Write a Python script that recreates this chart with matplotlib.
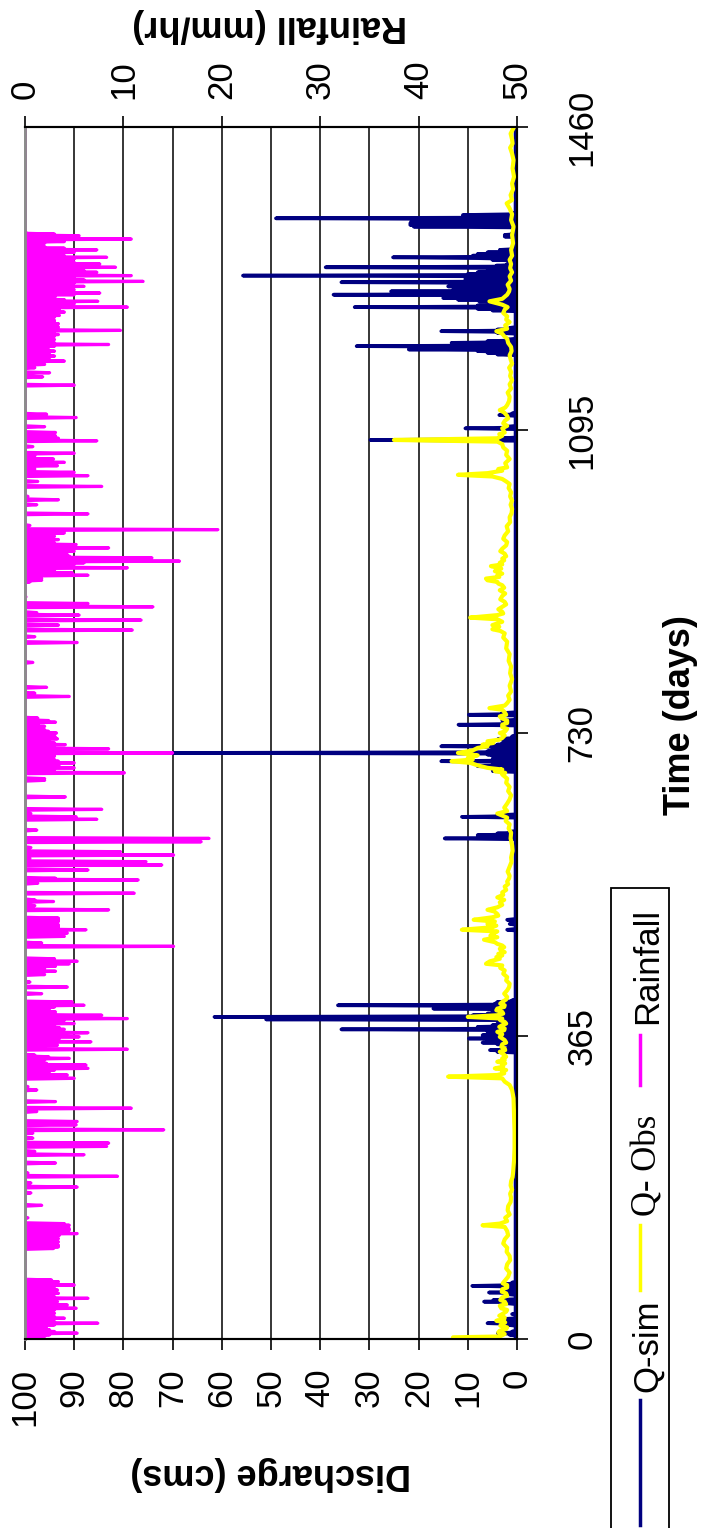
import numpy as np
import matplotlib.pyplot as plt
from matplotlib.patches import Rectangle
from matplotlib.lines import Line2D

plt.rcParams['font.family'] = ['Liberation Sans', 'DejaVu Sans']

# Rainfall (mm/hr): (day, value), zero on the other days
rain_y1 = [(1, 1.2), (3, 2.0), (5, 2.5), (7, 5.3), (9, 3.0), (11, 2.5), (13, 2.2), (15, 1.7), (17, 3.0),
           (19, 7.4), (21, 3.0), (23, 2.5), (25, 4.0), (27, 3.0), (29, 2.2), (31, 3.0), (33, 2.8), (35, 3.0),
           (37, 5.2), (39, 2.5), (41, 4.3), (43, 3.0), (45, 3.3), (47, 3.0), (49, 6.4), (51, 3.0), (53, 2.5),
           (55, 3.4), (57, 3.0), (59, 3.3), (61, 2.5), (63, 3.0), (65, 5.0), (67, 3.0), (69, 3.4), (71, 2.7),
           (109, 2.9), (111, 3.4), (113, 3.4), (115, 3.0), (117, 3.4), (119, 3.3), (121, 3.4), (123, 3.3),
           (125, 3.5), (127, 5.3), (129, 4.0), (131, 4.5), (133, 4.5), (135, 4.0), (137, 4.5), (139, 4.0),
           (146, 0.3), (161, 1.7), (176, 0.6), (183, 5.3), (188, 0.6), (196, 9.4), (200, 0.3), (212, 3.1),
           (222, 6.0), (226, 1.0), (232, 8.3), (236, 8.5), (242, 0.8), (248, 0.8), (252, 14.1), (258, 5.2),
           (262, 5.3), (274, 1.2), (278, 10.8), (286, 3.1), (300, 1.2), (304, 0.3),
           (314, 5.0), (316, 2.5), (318, 4.3), (320, 2.2), (322, 2.5), (324, 3.0), (326, 6.4), (328, 2.0),
           (330, 6.2), (332, 2.2), (334, 1.5), (336, 2.0), (338, 4.5), (340, 2.4), (342, 1.0), (349, 10.4),
           (352, 2.0), (354, 3.3), (356, 2.5), (358, 6.7), (360, 3.0), (362, 3.5), (364, 5.5)]
rain_y2 = [(366, 3.5), (368, 4.0), (369, 6.4), (371, 3.0), (373, 4.0), (375, 3.5), (376, 2.4), (378, 3.0),
           (380, 5.0), (382, 3.0), (384, 4.0), (386, 10.4), (388, 4.5), (390, 7.8), (392, 3.0), (394, 3.1),
           (396, 2.5), (398, 2.0), (400, 3.0), (402, 6.0), (404, 2.5), (406, 4.8),
           (416, 1.7), (424, 4.3), (430, 0.5), (439, 2.0), (443, 3.1), (446, 2.0), (449, 3.1), (452, 4.5),
           (455, 5.3), (458, 3.0), (473, 15.1), (477, 1.7),
           (485, 4.0), (487, 3.4), (489, 4.3), (491, 3.4), (493, 6.2), (495, 3.4), (497, 3.4), (499, 3.4),
           (501, 3.0), (503, 3.4), (505, 3.4), (507, 3.4),
           (517, 8.5), (522, 1.0), (527, 2.9), (529, 1.0), (537, 11.1), (549, 1.3), (551, 1.0), (553, 11.5),
           (555, 3.1), (565, 6.4), (571, 13.9), (575, 12.3), (579, 0.5), (583, 15.1), (587, 9.7), (592, 0.6),
           (599, 17.9), (603, 18.7), (613, 1.2), (626, 7.3), (629, 5.2), (633, 0.6), (638, 7.8), (653, 4.1),
           (673, 2.0), (675, 2.0), (682, 10.1),
           (684, 2.0), (686, 3.0), (688, 5.0), (690, 3.0), (692, 3.5), (694, 5.0), (696, 3.4), (698, 3.0),
           (700, 2.5), (702, 3.0), (704, 2.5), (706, 15.0), (708, 1.3), (711, 8.5), (713, 3.0), (716, 4.1),
           (718, 3.0), (720, 2.5), (723, 3.3), (725, 3.1), (727, 3.0)]
rain_y3 = [(730, 3.2), (732, 2.4), (734, 2.0), (736, 1.5), (738, 2.0), (740, 1.3), (743, 3.1), (745, 2.4),
           (748, 1.3), (774, 4.5), (778, 1.0), (785, 2.2), (815, 0.8), (839, 5.3), (846, 1.0), (854, 10.9),
           (860, 3.4), (866, 11.8), (872, 5.5), (875, 1.2), (882, 13.0), (886, 6.4), (894, 0.1), (912, 0.5),
           (914, 1.7), (916, 1.7), (920, 6.4), (923, 4.8), (926, 3.0), (929, 10.4), (931, 3.0), (933, 5.0),
           (935, 6.0), (937, 15.7), (939, 5.0), (941, 12.9), (943, 4.5), (945, 4.3), (947, 3.0), (949, 5.0),
           (951, 3.0), (953, 8.5), (955, 3.0), (957, 5.2), (959, 3.0), (961, 2.5), (963, 3.4), (965, 2.0),
           (967, 3.0), (969, 2.5), (971, 4.0), (973, 1.0), (975, 19.6), (980, 0.5), (994, 6.4), (1005, 1.2),
           (1011, 3.4), (1015, 0.3), (1027, 7.8), (1033, 1.3), (1040, 6.4), (1044, 5.0), (1048, 1.0),
           (1052, 3.3), (1056, 4.0), (1060, 2.9), (1064, 1.0), (1067, 5.0), (1075, 0.8), (1082, 7.3),
           (1085, 3.4), (1088, 3.1), (1092, 3.1)]
rain_y4 = [(1099, 2.0), (1110, 5.2), (1114, 2.2), (1149, 5.0), (1159, 1.8), (1164, 2.5), (1170, 1.0),
           (1174, 2.0), (1178, 4.0), (1180, 2.5), (1182, 2.4), (1184, 3.0), (1186, 2.0), (1188, 2.5),
           (1190, 3.0), (1192, 2.4), (1194, 2.0), (1196, 3.0), (1198, 8.5), (1200, 3.0), (1202, 2.4),
           (1204, 3.0), (1206, 2.5), (1208, 3.0), (1210, 3.4), (1212, 3.0), (1215, 9.7), (1217, 3.0),
           (1219, 3.4), (1221, 3.0), (1223, 3.4), (1225, 3.0), (1227, 3.0), (1229, 2.9), (1231, 3.0),
           (1233, 3.5), (1235, 3.0), (1237, 4.0), (1239, 3.0), (1241, 3.5), (1243, 10.4), (1245, 4.0),
           (1247, 5.0), (1250, 7.4), (1252, 4.0), (1254, 3.0), (1256, 3.1), (1258, 5.0), (1260, 7.6),
           (1262, 4.0), (1264, 5.0), (1266, 4.0), (1268, 6.0), (1270, 4.8), (1272, 5.0), (1274, 12.0),
           (1276, 6.0), (1278, 5.0), (1281, 10.8), (1283, 5.0), (1285, 7.3), (1287, 6.0), (1289, 5.0),
           (1291, 9.2), (1293, 5.0), (1295, 7.6), (1297, 5.0), (1299, 4.0), (1301, 5.0), (1303, 8.3),
           (1305, 4.0), (1307, 3.3), (1309, 5.0), (1312, 7.3), (1314, 4.0), (1316, 2.0), (1318, 0.3),
           (1320, 2.0), (1322, 4.0), (1325, 10.8), (1327, 5.0), (1329, 5.5), (1331, 3.0), (1333, 0.1)]

# Q-sim (cms): (day, value), base flow on the other days
qsim_base = 0.3
qsim_y1 = [(5, 1.5), (7, 3.9), (9, 1.0), (17, 2.0), (19, 6.0), (21, 2.0), (24, 3.0), (30, 1.0), (43, 2.0),
           (45, 6.7), (47, 4.8), (54, 2.0), (56, 5.7), (58, 2.0), (62, 3.0), (64, 9.1), (66, 2.8), (68, 1.0),
           (346, 4.0), (348, 5.5), (350, 2.0), (352, 1.5), (355, 4.0), (357, 7.0), (359, 6.0), (362, 9.8),
           (364, 6.0)]
qsim_y2 = [(366, 7.0), (368, 5.0), (370, 6.0), (373, 35.7), (375, 6.0), (376, 8.0), (378, 5.0), (380, 4.0),
           (382, 3.0), (385, 51.0), (386, 6.0), (388, 61.5), (390, 9.0), (392, 6.0), (394, 5.0), (396, 4.0),
           (398, 17.0), (400, 5.0), (402, 36.4), (404, 4.5), (406, 4.0), (408, 1.0), (493, 2.0), (500, 1.5),
           (505, 2.0), (603, 14.7), (605, 5.0), (607, 8.0), (609, 4.0), (611, 1.5), (629, 11.2), (631, 4.0),
           (684, 4.9), (686, 5.0), (688, 3.0), (690, 8.0), (692, 5.0), (694, 3.0), (696, 15.4), (698, 5.0),
           (700, 4.0), (702, 5.0), (704, 6.0), (706, 70.0), (708, 6.0), (710, 4.0), (712, 5.0), (714, 15.4),
           (716, 4.0), (718, 3.0), (720, 1.0), (723, 3.8), (726, 1.0)]
qsim_y3 = [(740, 11.9), (742, 2.0), (745, 3.0), (752, 9.8), (754, 3.0), (1083, 29.8), (1085, 3.0)]
qsim_y4 = [(1097, 10.5), (1099, 2.0), (1113, 3.6), (1115, 1.0),
           (1186, 4.0), (1188, 6.0), (1190, 8.0), (1192, 22.0), (1194, 10.0), (1196, 32.6), (1198, 12.0),
           (1200, 13.3), (1202, 6.0), (1204, 2.0), (1212, 4.0), (1214, 15.4), (1216, 4.0), (1218, 1.5),
           (1239, 5.0), (1241, 8.0), (1243, 33.0), (1245, 8.0), (1247, 5.0),
           (1250, 7.7), (1252, 12.0), (1254, 15.0), (1256, 12.0), (1258, 37.3), (1260, 12.0), (1262, 25.6),
           (1264, 13.0), (1266, 12.0), (1268, 14.0), (1270, 12.0), (1273, 35.7), (1275, 10.5), (1277, 10.5),
           (1279, 8.0), (1281, 55.7), (1283, 10.0), (1285, 8.0), (1287, 6.0), (1289, 5.0), (1291, 38.9),
           (1293, 4.2), (1295, 2.0), (1300, 5.0), (1302, 8.0), (1303, 25.2), (1305, 9.0), (1307, 8.0),
           (1309, 6.0), (1312, 3.5), (1314, 1.0), (1328, 2.5), (1330, 2.5), (1332, 1.0),
           (1340, 21.0), (1342, 21.7), (1344, 21.7), (1346, 21.5), (1348, 12.0), (1350, 49.0), (1352, 11.0),
           (1354, 11.0), (1356, 1.0)]

# Q-Obs (cms): points
qobs_y1 = [(0, 13.0), (2, 13.0), (3, 3.5), (6, 2.5), (8, 3.8), (10, 3.5), (12, 2.2), (14, 2.0), (16, 3.4),
           (18, 3.0), (20, 2.4), (22, 4.2), (24, 2.6), (26, 2.5), (28, 3.6), (30, 3.0), (33, 2.2), (35, 2.0),
           (37, 3.2), (40, 3.5), (42, 2.2), (45, 2.5), (47, 3.4), (50, 3.0), (52, 2.0), (55, 2.2), (57, 3.1),
           (60, 3.0), (62, 2.0), (65, 2.0), (67, 2.9), (70, 2.5), (75, 1.8), (80, 1.5), (85, 2.2), (90, 2.0),
           (95, 1.4), (100, 1.5), (105, 2.1), (110, 2.0), (115, 2.8), (120, 2.5), (125, 1.8), (130, 2.0),
           (135, 2.5), (137, 7.0), (139, 3.5), (142, 2.0), (146, 2.4), (150, 1.5), (155, 1.9), (160, 1.8),
           (165, 1.3), (170, 1.2), (175, 1.4), (180, 1.0), (185, 1.3), (190, 1.2), (195, 0.9), (200, 0.8),
           (215, 0.6), (230, 0.5), (250, 0.5), (270, 0.6), (290, 0.7), (300, 1.0), (306, 1.5), (310, 2.5),
           (314, 3.0), (316, 14.0), (318, 4.0), (320, 2.6), (322, 3.0), (324, 2.2), (326, 4.5), (328, 2.8),
           (330, 3.0), (332, 2.4), (334, 4.0), (336, 2.5), (338, 3.0), (340, 2.2), (342, 2.5), (344, 3.0),
           (346, 3.5), (348, 2.4), (350, 2.5), (352, 3.2), (355, 3.0), (357, 2.2), (360, 2.5), (362, 3.0),
           (364, 3.5)]
qobs_y2 = [(367, 3.0), (370, 4.0), (372, 2.6), (374, 2.5), (376, 3.6), (378, 3.0), (380, 2.2), (382, 2.5),
           (384, 3.4), (386, 3.0), (388, 10.0), (390, 4.0), (392, 2.8), (394, 3.0), (396, 4.2), (398, 4.0),
           (400, 2.6), (402, 2.5), (404, 3.4), (406, 3.0), (409, 2.2), (412, 2.0), (416, 2.6), (420, 2.0),
           (424, 1.6), (428, 1.5), (432, 2.2), (436, 2.0), (440, 2.8), (444, 2.5), (447, 3.4), (450, 3.0),
           (452, 6.3), (455, 5.5), (458, 3.5), (460, 4.2), (462, 3.0), (464, 3.8), (466, 2.5), (468, 3.2),
           (470, 3.5), (472, 2.6), (474, 3.0), (476, 4.0), (478, 4.5), (481, 6.7), (484, 4.0), (486, 5.4),
           (488, 5.0), (491, 4.0), (493, 11.2), (496, 5.0), (498, 4.2), (500, 6.0), (503, 4.5), (505, 8.8),
           (508, 5.0), (510, 3.8), (512, 4.0), (515, 4.6), (517, 6.0), (520, 4.0), (523, 3.0), (526, 3.5),
           (529, 2.6), (532, 4.0), (535, 2.8), (538, 3.0), (541, 2.2), (545, 2.5), (548, 1.8), (551, 2.0),
           (555, 1.6), (558, 1.5), (563, 1.9), (569, 1.5), (575, 1.1), (580, 1.2), (588, 0.9), (595, 1.0),
           (603, 1.3), (610, 1.2), (615, 1.7), (620, 1.5), (624, 2.3), (628, 2.0), (633, 4.0), (636, 2.0),
           (640, 2.6), (645, 2.0), (650, 1.5), (655, 1.2), (660, 1.8), (665, 1.5), (670, 2.2), (675, 2.0),
           (678, 2.6), (680, 3.0), (682, 2.4), (684, 4.5), (686, 3.0), (688, 6.0), (691, 8.0), (694, 9.5),
           (696, 13.3), (698, 9.0), (700, 10.0), (703, 8.0), (706, 12.0), (709, 9.0), (712, 8.0), (714, 6.0),
           (716, 7.0), (718, 4.8), (720, 6.0), (722, 3.6), (724, 3.0), (727, 2.5)]
qobs_y3 = [(730, 3.5), (732, 2.4), (735, 2.0), (737, 3.0), (740, 3.0), (742, 2.0), (745, 2.0), (748, 3.2),
           (750, 3.5), (752, 2.2), (755, 2.5), (758, 3.0), (760, 5.6), (763, 2.5), (766, 2.0), (770, 1.5),
           (775, 1.8), (780, 1.2), (787, 1.5), (795, 1.0), (802, 1.4), (810, 1.2), (817, 1.7), (825, 1.5),
           (832, 2.2), (840, 2.0), (845, 2.8), (850, 2.5), (853, 3.4), (855, 5.0), (858, 3.6), (860, 5.0),
           (864, 3.0), (867, 4.0), (869, 9.5), (872, 4.0), (874, 2.8), (876, 3.0), (879, 3.8), (882, 3.0),
           (885, 2.2), (888, 2.5), (891, 3.4), (895, 3.0), (898, 2.4), (902, 3.5), (905, 2.6), (908, 3.0),
           (910, 3.8), (912, 4.0), (914, 6.0), (916, 6.3), (918, 3.6), (920, 4.0), (922, 3.0), (925, 4.5),
           (928, 3.2), (931, 5.3), (933, 3.0), (935, 3.5), (938, 2.6), (940, 3.0), (943, 2.2), (946, 2.5),
           (949, 3.4), (952, 3.0), (956, 2.2), (960, 2.0), (964, 2.8), (968, 2.5), (973, 1.8), (979, 2.1),
           (984, 1.4), (990, 1.5), (995, 1.1), (1000, 1.0), (1005, 1.3), (1010, 1.0), (1015, 1.4), (1020, 1.2),
           (1025, 1.7), (1030, 1.5), (1033, 2.2), (1036, 3.0), (1039, 5.0), (1041, 12.0), (1043, 6.0),
           (1046, 3.0), (1048, 3.8), (1050, 2.0), (1055, 2.4), (1060, 1.5), (1065, 2.2), (1070, 2.0),
           (1074, 2.8), (1078, 3.0), (1081, 4.0), (1083, 25.0), (1085, 4.0), (1088, 3.0), (1090, 3.6),
           (1092, 2.5)]
qobs_y4 = [(1097, 3.0), (1100, 2.0), (1103, 2.8), (1106, 2.5), (1109, 1.8), (1112, 2.0), (1116, 2.6),
           (1119, 3.5), (1122, 2.4), (1125, 2.0), (1130, 1.6), (1135, 1.5), (1140, 1.9), (1145, 1.2),
           (1150, 1.5), (1155, 1.0), (1160, 1.4), (1165, 1.2), (1170, 1.6), (1175, 1.0), (1180, 1.3),
           (1185, 1.5), (1190, 1.1), (1195, 1.2), (1200, 1.8), (1205, 2.0), (1208, 2.6), (1211, 3.0),
           (1214, 4.2), (1217, 2.0), (1221, 2.4), (1225, 1.5), (1228, 2.2), (1232, 2.0), (1236, 2.8),
           (1240, 2.5), (1243, 1.9), (1246, 3.0), (1250, 5.6), (1253, 3.0), (1256, 2.4), (1258, 2.0),
           (1262, 1.6), (1265, 1.5), (1270, 1.9), (1275, 1.2), (1280, 1.5), (1285, 1.0), (1290, 1.4),
           (1295, 1.2), (1300, 1.5), (1305, 1.0), (1312, 1.2), (1320, 0.8), (1330, 1.0), (1340, 0.7),
           (1348, 1.2), (1355, 1.0), (1362, 1.5), (1368, 2.1), (1372, 1.0), (1378, 1.3), (1385, 0.8),
           (1392, 1.0), (1400, 0.6), (1410, 0.9), (1420, 0.7), (1428, 1.0), (1435, 1.4), (1440, 0.9),
           (1445, 1.0), (1452, 1.3), (1460, 0.6)]

time_ticks = [0, 365, 730, 1095, 1460]
discharge_ticks = list(range(0, 101, 10))
rain_ticks = list(range(0, 51, 10))
series_names = ['Q-sim', 'Q- Obs', 'Rainfall']
series_colors = ['#000080', '#FFFF00', '#FF00FF']

# build daily series
days = np.arange(0, 1461)
rain = np.zeros(days.size)
for d, v in rain_y1 + rain_y2 + rain_y3 + rain_y4:
    rain[d] = v
qsim = np.full(days.size, qsim_base)
for d, v in qsim_y1 + qsim_y2 + qsim_y3 + qsim_y4:
    qsim[d] = v
qobs_pts = np.array(qobs_y1 + qobs_y2 + qobs_y3 + qobs_y4)

W, H = 704, 1528
fig = plt.figure(figsize=(W / 100, H / 100), dpi=100)

# the chart is drawn turned a quarter turn: time runs up, discharge runs to the left
px0, px1, py0, py1 = 25, 517, 127, 1339
ax = fig.add_axes([px0 / W, 1 - py1 / H, (px1 - px0) / W, (py1 - py0) / H])

ax.plot(qsim, days, color=series_colors[0], lw=2.6, zorder=3)
ax.plot(qobs_pts[:, 1], qobs_pts[:, 0], color=series_colors[1], lw=3.0, zorder=4)
ax.set_xlim(100, 0)
ax.set_ylim(0, 1460)

ax.set_xticks(discharge_ticks)
ax.tick_params(axis='x', direction='out', length=8, width=1.2, pad=13, labelsize=25, labelrotation=90)
ax.grid(axis='x', color='black', lw=1.1)
gl = ax.get_xgridlines()
gl[0].set_visible(False)
gl[-1].set_visible(False)

ax.yaxis.tick_right()
ax.set_yticks(time_ticks)
ax.tick_params(axis='y', direction='out', length=8, width=1.2, pad=27, labelsize=25, labelrotation=90)
for lab in ax.get_yticklabels():
    lab.set_va('center')

ax2 = ax.twiny()
ax2.plot(rain, days, color=series_colors[2], lw=2.3)
ax2.set_xlim(0, 50)
ax2.set_ylim(0, 1460)
ax2.set_xticks(rain_ticks)
ax2.tick_params(axis='x', direction='out', length=8, width=1.2, pad=12, labelsize=25, labelrotation=90)

for a in (ax, ax2):
    for side in ('top', 'bottom', 'right'):
        a.spines[side].set_color('black')
        a.spines[side].set_linewidth(1.5)
    a.spines['left'].set_color('#8c8c8c')
    a.spines['left'].set_linewidth(2.0)

fig.text(271 / W, 1 - 1473 / H, 'Discharge (cms)', rotation=180, ha='center', va='center',
         fontsize=26, fontweight='bold')
fig.text(270 / W, 1 - 25 / H, 'Rainfall (mm/hr)', rotation=180, ha='center', va='center',
         fontsize=26, fontweight='bold')
fig.text(681 / W, 1 - 715 / H, 'Time (days)', rotation=90, ha='center', va='center',
         fontsize=26, fontweight='bold')

# legend box, turned like the chart, running off the bottom edge
fig.add_artist(Rectangle((611 / W, -0.02), (669 - 611) / W, 0.02 + 1 - 888 / H,
                         transform=fig.transFigure, fill=False, ec='black', lw=1.3))
leg_lines = [(1400, 1525), (1225, 1290), (1035, 1085)]
leg_texts = [1346, 1165, 966]
leg_fonts = [['Liberation Sans'], ['Liberation Serif'], ['Liberation Sans']]
for name, col, (ya, yb), yt, fam in zip(series_names, series_colors, leg_lines, leg_texts, leg_fonts):
    fig.add_artist(Line2D([640 / W, 640 / W], [1 - ya / H, 1 - yb / H], transform=fig.transFigure,
                          color=col, lw=2.5))
    fig.text(648 / W, 1 - yt / H, name, rotation=90, ha='center', va='center', fontsize=25, family=fam)

fig.savefig('out.png', dpi=100)
